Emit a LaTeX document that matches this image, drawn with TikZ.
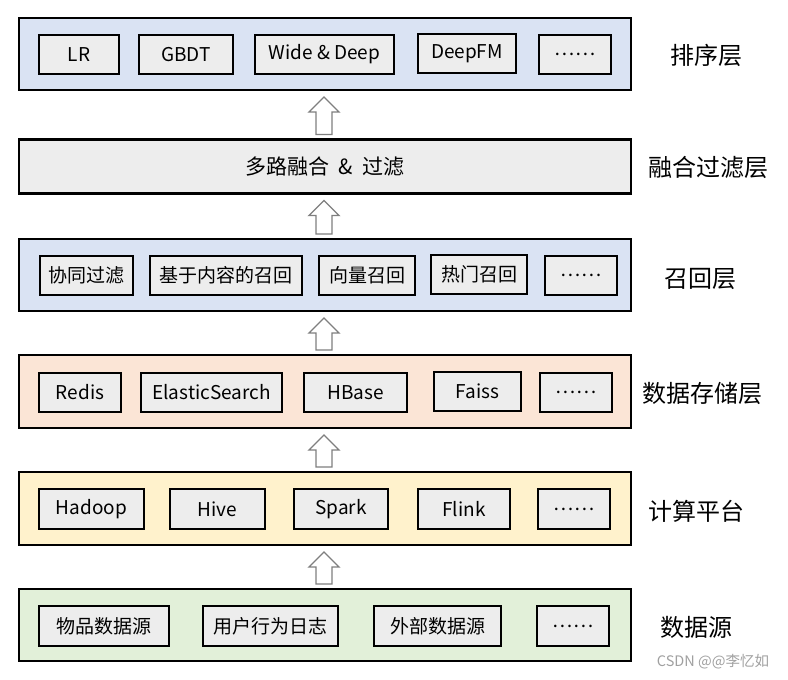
\documentclass[tikz,border=0pt]{standalone}
\usepackage{fontspec}
\setmainfont{Noto Sans CJK SC}
\usetikzlibrary{calc}
\definecolor{lblue}{HTML}{DAE3F3}
\definecolor{lgray}{HTML}{EDEDED}
\definecolor{lorange}{HTML}{FBE5D6}
\definecolor{lyellow}{HTML}{FFF2CC}
\definecolor{lgreen}{HTML}{E2F0D9}
\definecolor{arrgray}{HTML}{7F7F7F}
\definecolor{wmgray}{HTML}{A0A0A0}
\tikzset{
  layer/.style={draw, line width=2.2pt, minimum width=612pt, minimum height=72pt, inner sep=0pt, outer sep=0pt},
  item/.style={draw, line width=2.2pt, fill=lgray, minimum height=39pt, inner sep=0pt, outer sep=0pt, font=\fontsize{19}{21}\selectfont},
  lab/.style={font=\fontsize{24}{27}\selectfont, inner sep=0pt},
  arrowst/.style={draw=arrgray, fill=white, line width=1.3pt, line join=miter},
}
\newcommand\blockarr[2]{%
  \draw[arrowst] let \p1=(#1.north), \p2=(#2.south) in
   (\x1-9pt,\y1+5pt) -- (\x1+7pt,\y1+5pt) -- (\x1+7pt,\y2-22pt) -- (\x1+14pt,\y2-22pt)
   -- (\x1-1pt,\y2-7pt) -- (\x1-16pt,\y2-22pt) -- (\x1-9pt,\y2-22pt) -- cycle;}
\begin{document}
\begin{tikzpicture}[x=1pt,y=-1pt]
\useasboundingbox (0,0) rectangle (788,680);
% layers
\node[layer, fill=lblue] (L1) at (325,54) {};
\node[layer, fill=lgray, minimum height=54pt, font=\fontsize{21}{23}\selectfont] (L2) at (325,166.5) {多路融合\hspace{0.45em}\&\hspace{0.45em}过滤};
\node[layer, fill=lblue] (L3) at (325,275) {};
\node[layer, fill=lorange, minimum height=73pt] (L4) at (325,391.5) {};
\node[layer, fill=lyellow, minimum height=73pt] (L5) at (325,508.5) {};
\node[layer, fill=lgreen] (L6) at (325,625) {};
% layer 1 items
\node[item, minimum width=80pt] (a1) at (79,54.5) {LR};
\node[item, minimum width=94pt] (a2) at (186,54.5) {GBDT};
\node[item, minimum width=139pt] (a3) at (324.5,54.5) {Wide \& Deep};
\node[item, minimum width=98pt] (a4) at (467,53.5) {DeepFM};
\node[item, minimum width=72pt] (a5) at (575,54.5) {……};
% layer 3 items
\node[item, minimum width=93pt] (c1) at (86.5,275.5) {协同过滤};
\node[item, minimum width=152pt] (c2) at (226,275.5) {基于内容的召回};
\node[item, minimum width=96pt] (c3) at (367,275.5) {向量召回};
\node[item, minimum width=96pt] (c4) at (479,274.5) {热门召回};
\node[item, minimum width=72pt] (c5) at (581,275.5) {……};
% layer 4 items
\node[item, minimum width=82pt] (d1) at (80,392.5) {Redis};
\node[item, minimum width=141pt] (d2) at (211.5,392.5) {ElasticSearch};
\node[item, minimum width=103pt] (d3) at (355.5,392.5) {HBase};
\node[item, minimum width=87pt] (d4) at (477.5,391.5) {Faiss};
\node[item, minimum width=72pt] (d5) at (576,392.5) {……};
% layer 5 items
\node[item, minimum width=105pt, minimum height=40pt] (e1) at (91.5,509) {Hadoop};
\node[item, minimum width=95pt, minimum height=40pt] (e2) at (217.5,509) {Hive};
\node[item, minimum width=94pt, minimum height=40pt] (e3) at (341,509) {Spark};
\node[item, minimum width=92pt, minimum height=40pt] (e4) at (464,509) {Flink};
\node[item, minimum width=72pt, minimum height=40pt] (e5) at (574,509) {……};
% layer 6 items
\node[item, minimum width=130pt, minimum height=40pt] (f1) at (104,626) {物品数据源};
\node[item, minimum width=135pt, minimum height=40pt] (f2) at (270.5,626) {用户行为日志};
\node[item, minimum width=127pt, minimum height=40pt] (f3) at (437.5,626) {外部数据源};
\node[item, minimum width=72pt, minimum height=40pt] (f4) at (573,626) {……};
% labels
\node[lab] (n1) at (706,55) {排序层};
\node[lab] (n2) at (708,167) {融合过滤层};
\node[lab] (n3) at (700,279) {召回层};
\node[lab] (n4) at (702,393) {数据存储层};
\node[lab] (n5) at (696,511) {计算平台};
\node[lab] (n6) at (696,627) {数据源};
% arrows
\blockarr{L2}{L1}
\blockarr{L3}{L2}
\blockarr{L4}{L3}
\blockarr{L5}{L4}
\blockarr{L6}{L5}
% watermark
\node[font=\fontsize{14.5}{16}\selectfont, text=wmgray, inner sep=0pt] (wm) at (713,662) {CSDN @@李忆如};
\end{tikzpicture}
\end{document}
